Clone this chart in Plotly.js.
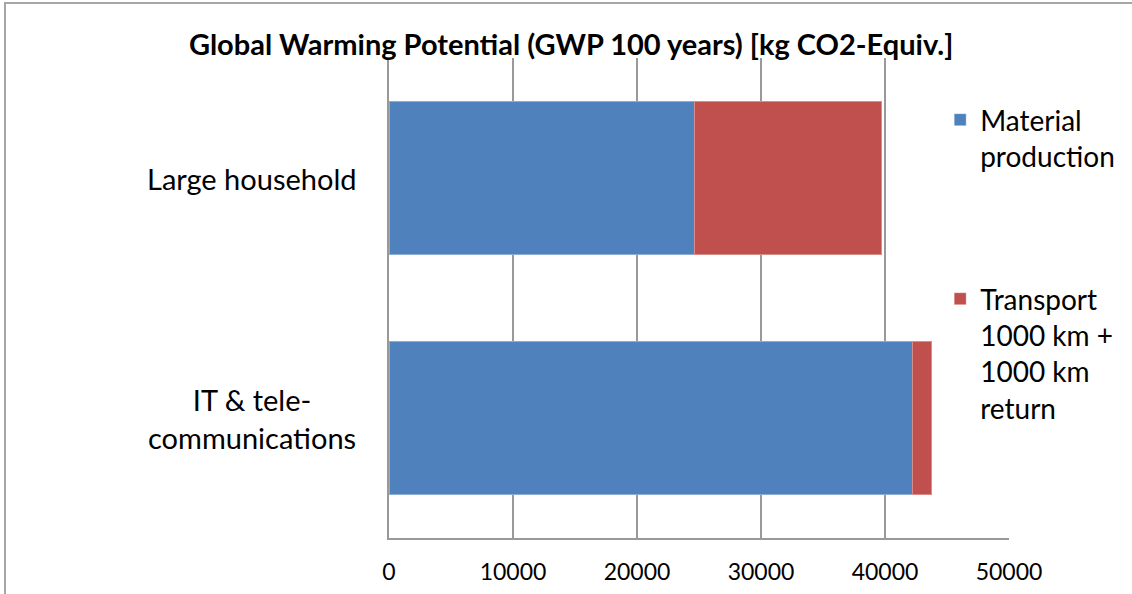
<!DOCTYPE html>
<html>
<head>
<meta charset="utf-8">
<script src="https://cdn.plot.ly/plotly-3.0.1.min.js"></script>
<style>
html,body{margin:0;padding:0;background:#fff;overflow:hidden;}
#frame{position:absolute;left:4px;top:2px;width:1200px;height:700px;border-left:2px solid #a6a6a6;border-top:2px solid #a6a6a6;}
#chart{position:absolute;left:0;top:0;width:1132px;height:594px;}
</style>
</head>
<body>
<div id="frame"></div>
<div id="chart"></div>
<script>
// ---- data ----
const categories = ["Large household", "IT & tele-communications"];
const categoryLabels = ["Large household", "IT & tele-<br>communications"];
const materialProduction = [24600, 42200];
const transport = [15150, 1570];
const seriesNames = ["Material<br>production", "Transport<br>1000 km +<br>1000 km<br>return"];
const xTicks = [0, 10000, 20000, 30000, 40000, 50000];
const titleText = "Global Warming Potential (GWP 100 years) [kg CO2-Equiv.]";

const FONT = "Lato, 'Open Sans', sans-serif";
const edge = {color: "rgba(255,255,255,0.35)", width: 1};

const traces = [
  {type: "bar", orientation: "h", y: categories, x: materialProduction, name: seriesNames[0],
   marker: {color: "#4F81BD", line: edge}, legend: "legend", hoverinfo: "x+name"},
  {type: "bar", orientation: "h", y: categories, x: transport, name: seriesNames[1],
   marker: {color: "#C0504D", line: edge}, legend: "legend2", hoverinfo: "x+name"}
];

const annotations = categories.map((c, i) => ({
  xref: "paper", yref: "y", x: 0, y: c, xanchor: "right", yanchor: "middle",
  xshift: -31, align: "center", showarrow: false, text: categoryLabels[i],
  font: {family: FONT, size: 29, color: "#000"}
}));

const legendCommon = {
  font: {family: FONT, size: 28, color: "#000"},
  bgcolor: "rgba(0,0,0,0)", borderwidth: 0, valign: "top",
  xanchor: "left", yanchor: "top", itemclick: false, itemdoubleclick: false
};

const layout = {
  width: 1132, height: 594,
  margin: {l: 389, r: 123, t: 58, b: 56, pad: 0, autoexpand: false},
  paper_bgcolor: "rgba(0,0,0,0)", plot_bgcolor: "rgba(0,0,0,0)",
  barmode: "stack", bargap: 0.36,
  title: {text: "<b>" + titleText + "</b>", font: {family: FONT, size: 29, color: "#000"},
          xref: "container", x: 0.5045, xanchor: "center", yref: "container", y: 0.925, yanchor: "middle"},
  xaxis: {range: [0, 50000], tickvals: xTicks, ticktext: xTicks.map(String),
          showgrid: true, gridcolor: "#999", gridwidth: 2,
          zeroline: false, showline: true, linecolor: "#999", linewidth: 2,
          ticks: "", ticklabelstandoff: 12,
          tickfont: {family: FONT, size: 23, color: "#000"}, fixedrange: true},
  yaxis: {type: "category", categoryorder: "array", categoryarray: categories, autorange: "reversed",
          showticklabels: false, showgrid: false, zeroline: false,
          showline: true, linecolor: "#999", linewidth: 2, ticks: "", fixedrange: true},
  annotations: annotations,
  showlegend: true,
  legend: Object.assign({x: 0.889, y: 0.923}, legendCommon),
  legend2: Object.assign({x: 0.889, y: 0.55}, legendCommon)
};

Plotly.newPlot("chart", traces, layout, {displayModeBar: false, staticPlot: true});
</script>
</body>
</html>
